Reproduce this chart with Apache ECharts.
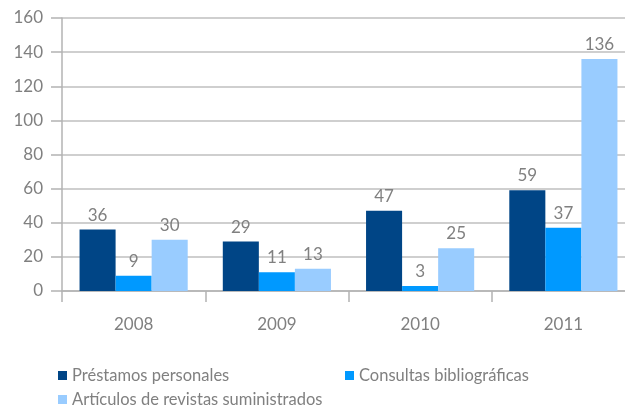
<!DOCTYPE html>
<html>
<head>
<meta charset="utf-8">
<script src="https://cdn.jsdelivr.net/npm/echarts@6/dist/echarts.min.js"></script>
<style>
  html, body { margin: 0; padding: 0; background: #fff; }
  #chart { width: 625px; height: 405px; }
</style>
</head>
<body>
<div id="chart"></div>
<script>
const years = ['2008', '2009', '2010', '2011'];
const prestamos = [36, 29, 47, 59];
const consultas = [9, 11, 3, 37];
const articulos = [30, 13, 25, 136];
const yTicks = [0, 20, 40, 60, 80, 100, 120, 140, 160];

const fontFam = 'Lato, "Open Sans", sans-serif';
const grey = '#808080';

const myChart = echarts.init(document.getElementById('chart'));

const labelStyle = {
  show: true,
  position: 'top',
  color: grey,
  fontSize: 17,
  fontFamily: fontFam,
  distance: 6
};

const legendText = { color: grey, fontSize: 16.5, fontFamily: fontFam };

const legendBase = { padding: 0, itemWidth: 9, itemHeight: 9, itemGap: 10, icon: 'rect', textStyle: legendText };

const option = {
  animation: false,
  grid: { left: 62, width: 573, top: 18, bottom: 114, containLabel: false, outerBoundsMode: 'none' },
  legend: [
    Object.assign({ left: 58, top: 367, data: ['Préstamos personales'] }, legendBase),
    Object.assign({ left: 345, top: 367, data: ['Consultas bibliográficas'] }, legendBase),
    Object.assign({ left: 58, top: 391, data: ['Artículos de revistas suministrados'] }, legendBase)
  ],
  xAxis: {
    type: 'category',
    data: years,
    axisLine: { lineStyle: { color: '#b3b3b3', width: 1.5 } },
    axisTick: { show: true, length: 11, lineStyle: { color: '#b3b3b3', width: 1.5 } },
    axisLabel: { color: grey, fontSize: 17, fontFamily: fontFam, margin: 25 }
  },
  yAxis: {
    type: 'value',
    min: yTicks[0],
    max: yTicks[yTicks.length - 1],
    interval: 20,
    axisLine: { show: true, lineStyle: { color: '#b3b3b3', width: 1.5 } },
    axisTick: { show: true, length: 11, lineStyle: { color: '#b3b3b3', width: 1.5 } },
    splitLine: { show: true, lineStyle: { color: '#bfbfbf', width: 1.5 } },
    axisLabel: { color: grey, fontSize: 17, fontFamily: fontFam, margin: 19 }
  },
  series: [
    {
      name: 'Préstamos personales',
      type: 'bar',
      data: prestamos,
      barGap: '0%',
      barCategoryGap: '24.5%',
      itemStyle: { color: '#004586' },
      label: labelStyle
    },
    {
      name: 'Consultas bibliográficas',
      type: 'bar',
      data: consultas,
      itemStyle: { color: '#0099ff' },
      label: labelStyle
    },
    {
      name: 'Artículos de revistas suministrados',
      type: 'bar',
      data: articulos,
      itemStyle: { color: '#99ccff' },
      label: labelStyle
    }
  ]
};

option && myChart.setOption(option);
</script>
</body>
</html>
